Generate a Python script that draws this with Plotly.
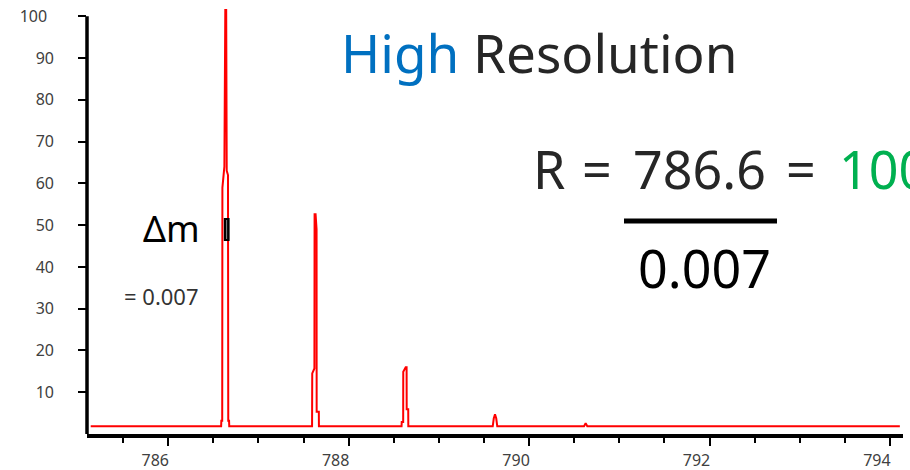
import plotly.graph_objects as go

# ---- data ----
mz = [785.14,
      786.586, 786.588, 786.598, 786.600, 786.622, 786.632, 786.642, 786.648, 786.662, 786.665, 786.674, 786.676,
      787.594, 787.596, 787.620, 787.622, 787.633, 787.644, 787.645, 787.669, 787.670,
      788.586, 788.588, 788.604, 788.605, 788.632, 788.642, 788.643, 788.660, 788.661,
      789.597, 789.608, 789.622, 789.636, 789.647,
      790.609, 790.627, 790.645,
      794.11]
intensity = [1.85,
             1.85, 3.2, 3.2, 59, 64, 101.5, 101.5, 63, 62, 3.2, 3.2, 1.85,
             1.85, 14.5, 15.7, 52.6, 52.6, 49, 5.3, 5.3, 1.85,
             1.85, 2.9, 2.9, 14.9, 16, 16, 5.9, 5.9, 1.85,
             1.85, 3.7, 4.7, 3.7, 1.85,
             1.85, 2.6, 1.85,
             1.85]

x_ticks = [786, 788, 790, 792, 794]
y_ticks = [10, 20, 30, 40, 50, 60, 70, 80, 90, 100]

# ---- geometry ----
W, H = 910, 470
L, R, T, B = 87, 7, 8, 36
PW, PH = W - L - R, H - T - B


def px(x):
    return (x - L) / PW


def py(y):
    return (H - B - y) / PH


# y tick labels sit well away from the axis (3-digit label a bit further)
y_text = [str(v) + ("\u00a0" * 6 + "\u2009" if v >= 100 else "\u00a0" * 5) for v in y_ticks]

fig = go.Figure()
fig.add_trace(go.Scatter(x=mz, y=intensity, mode="lines",
                         line=dict(color="#ff0000", width=2), hoverinfo="skip"))

tickfont = dict(family="Noto Sans", size=16, color="#404040")
fig.update_layout(
    width=W, height=H,
    margin=dict(l=L, r=R, t=T, b=B, autoexpand=False),
    paper_bgcolor="white", plot_bgcolor="white",
    showlegend=False,
    xaxis=dict(range=[785.099, 794.145], showgrid=False, zeroline=False, automargin=False,
               showline=True, linecolor="black", linewidth=3.5,
               tickmode="array", tickvals=x_ticks, ticktext=[str(v) for v in x_ticks],
               ticks="outside", ticklen=8, tickwidth=2, tickcolor="black",
               minor=dict(dtick=0.5, tick0=786, ticks="outside", ticklen=5, tickwidth=2, tickcolor="black"),
               tickfont=tickfont, ticklabelstandoff=1, ticklabelshift=-13),
    yaxis=dict(range=[0, 102], showgrid=False, zeroline=False, showline=False, automargin=False,
               tickmode="array", tickvals=y_ticks, ticktext=y_text,
               ticks="outside", ticklen=8, tickwidth=2, tickcolor="black",
               tickfont=tickfont),
)

# y axis line from 0 to 100
fig.add_shape(type="line", xref="paper", yref="y", x0=0, x1=0, y0=0, y1=100,
              line=dict(color="black", width=3.5))

# fraction bar
fig.add_shape(type="line", xref="paper", yref="paper", x0=px(624), x1=px(777), y0=py(221), y1=py(221),
              line=dict(color="black", width=5))

# delta-m marker
fig.add_shape(type="rect", xref="paper", yref="paper", x0=px(223.8), x1=px(229.6), y0=py(241), y1=py(218),
              line=dict(width=0), fillcolor="black")
fig.add_shape(type="line", xref="paper", yref="paper", x0=px(226.6), x1=px(226.6), y0=py(239), y1=py(220),
              line=dict(color="#888888", width=1))


def note(text, x, y, size, color, xanchor="center", family="Noto Sans"):
    fig.add_annotation(text=text, xref="paper", yref="paper", x=px(x), y=py(y),
                       xanchor=xanchor, yanchor="middle", showarrow=False,
                       font=dict(family=family, size=size, color=color))


note("<span style='color:#0070C0'>High</span> Resolution", 539, 52, 53, "#262626")
# R = 786.6 = 100 (runs off the right edge as in the reference)
note("R", 531, 168, 52, "#262626", xanchor="left")
note("=", 597, 168, 52, "#262626")
note("786.6", 631, 168, 52, "#262626", xanchor="left")
note("=", 801, 168, 52, "#262626")
note("100", 837, 168, 52, "#00B050", xanchor="left")
note("0.007", 704, 267, 52, "black")
note("Δm", 171, 228, 36, "black")
note("= 0.007", 161, 296, 22, "#333333")

fig.write_html("out.html")
